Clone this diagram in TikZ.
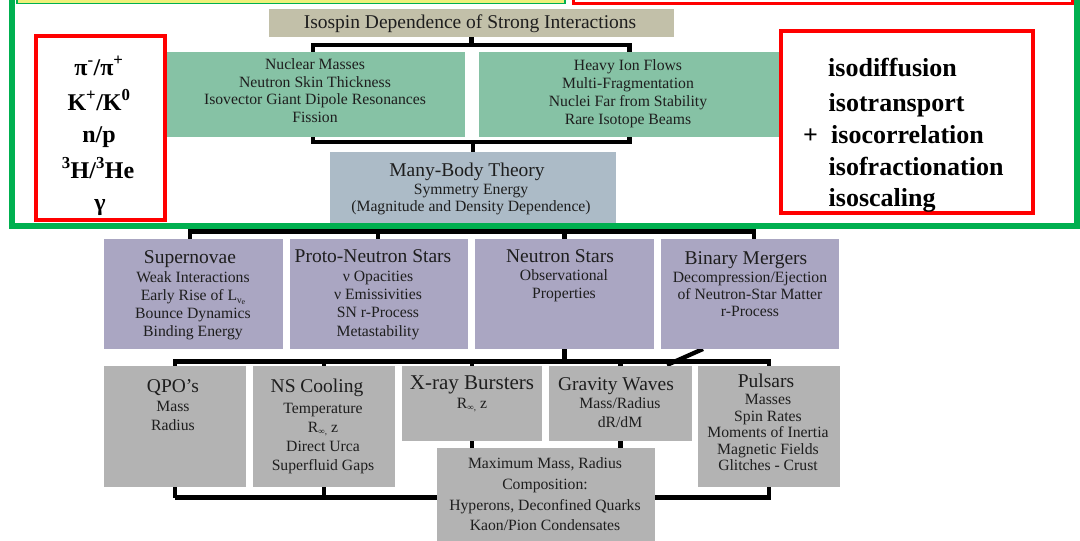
\documentclass[tikz,border=0pt]{standalone}
\usepackage{fontspec}
\setmainfont{Liberation Serif}

\definecolor{ink}{HTML}{1E1E1E}
\definecolor{tanfill}{HTML}{C2C0A9}
\definecolor{greenbox}{HTML}{86C2A5}
\definecolor{bluebox}{HTML}{ACBBC7}
\definecolor{purplebox}{HTML}{AAA6C2}
\definecolor{greybox}{HTML}{B3B3B3}
\definecolor{framegreen}{HTML}{00B050}
\definecolor{framered}{HTML}{FF0000}
\definecolor{stripyellow}{HTML}{EEF07A}

\pgfdeclarelayer{bg}
\pgfdeclarelayer{paper}
\pgfsetlayers{paper,bg,main}

\tikzset{
  blk/.style={draw=none, inner sep=0pt, outer sep=0pt, anchor=north west},
  conn/.style={line width=4.3pt, draw=black, line join=miter},
  ttl/.style={font=\fontsize{19.5}{22}\selectfont, anchor=base, inner sep=0pt, text=ink},
  sub/.style={font=\fontsize{15.7}{18}\selectfont, anchor=base, inner sep=0pt, text=ink},
  bigl/.style={font=\fontsize{24}{28}\selectfont\bfseries, anchor=base, inner sep=0pt, text=black},
  bigr/.style={font=\fontsize{26}{30}\selectfont\bfseries, anchor=base west, inner sep=0pt, text=black},
  redframe/.style={draw=framered, line width=3.5pt},
}

% subscripted symbols
\newcommand\Lnue{L\raisebox{-3pt}{\fontsize{10}{10}\selectfont ν\raisebox{-1.5pt}{\fontsize{8}{8}\selectfont e}}}
\newcommand\Rinf{R\raisebox{-2.5pt}{\fontsize{9}{9}\selectfont ∞,}}

% a centred column of text lines: name, x, first baseline, line step, lines
\newcommand\stack[5]{%
  \foreach \tline [count=\k] in {#5} {%
    \node[sub] (#1-\k) at (#2, {#3+(\k-1)*#4}) {\tline};}}

\begin{document}
\begin{tikzpicture}[x=1pt, y=-1pt]
\clip (0,0) rectangle (1080,541);
\begin{pgfonlayer}{paper}
  \fill[white] (0,0) rectangle (1080,541);
\end{pgfonlayer}

% ---------- boxes ----------
\node[blk, fill=tanfill,   minimum width=405pt, minimum height=28pt]  (title) at (269,9) {};
\node[blk, fill=greenbox,  minimum width=300pt, minimum height=85pt]  (gb1) at (165,52) {};
\node[blk, fill=greenbox,  minimum width=301pt, minimum height=85pt]  (gb2) at (479,52) {};
\node[blk, fill=bluebox,   minimum width=286pt, minimum height=71pt]  (mbt) at (330,152) {};

\node[blk, fill=purplebox, minimum width=179pt, minimum height=110pt] (sn)  at (104,239) {};
\node[blk, fill=purplebox, minimum width=178pt, minimum height=110pt] (pns) at (290,239) {};
\node[blk, fill=purplebox, minimum width=179pt, minimum height=110pt] (ns)  at (475,239) {};
\node[blk, fill=purplebox, minimum width=178pt, minimum height=110pt] (bm)  at (661,239) {};

\node[blk, fill=greybox, minimum width=142pt, minimum height=121pt] (qpo) at (104,366) {};
\node[blk, fill=greybox, minimum width=142pt, minimum height=121pt] (nsc) at (253,366) {};
\node[blk, fill=greybox, minimum width=140pt, minimum height=75pt]  (xrb) at (402,366) {};
\node[blk, fill=greybox, minimum width=143pt, minimum height=75pt]  (gw)  at (549,366) {};
\node[blk, fill=greybox, minimum width=142pt, minimum height=121pt] (pul) at (698,366) {};
\node[blk, fill=greybox, minimum width=218pt, minimum height=100pt] (mm)  at (437,448) {};

% ---------- connectors ----------
\begin{pgfonlayer}{bg}
  \draw[conn] (title.south) -- ++(0,8) coordinate (tb);
  \draw[conn] ([xshift=-2pt]gb1.north) |- (tb) -| (gb2.north);
  \draw[conn] (mbt.north) -- ++(0,-10) coordinate (mb);
  \draw[conn] ([xshift=-2pt]gb1.south) |- (mb) -| (gb2.south);

  \draw[conn] (mbt.south) -- ++(0,8.5) coordinate (r2);
  \draw[conn] ([xshift=-3.5pt]sn.north) |- (r2) -| ([xshift=4pt]bm.north);
  \draw[conn] ([xshift=-1pt]pns.north) -- ([xshift=-1pt]pns.north |- r2);
  \draw[conn] (ns.north) -- (ns.north |- r2);

  \draw[conn] (ns.south) -- ++(0,12.5) coordinate (r3);
  \draw[conn] (qpo.north) |- (r3) -| (pul.north);
  \draw[conn] (nsc.north) -- (nsc.north |- r3);
  \draw[conn] (xrb.north) -- (xrb.north |- r3);
  \draw[conn] (gw.north) -- (gw.north |- r3);
  \draw[conn] ([xshift=-47pt]bm.south) -- ([xshift=-102pt,yshift=1pt]pul.north);

  \draw[conn] (qpo.south) -- ++(0,10.5) coordinate (r4);
  \draw[conn] (r4) -| (pul.south);
  \draw[conn] (nsc.south) -- (nsc.south |- r4);
  \draw[conn] (xrb.south) -- (xrb.south |- mm.north);
  \draw[conn] (gw.south) -- (gw.south |- mm.north);
\end{pgfonlayer}

% ---------- texts ----------
\node[ttl] (title-t) at (470,28) {Isospin Dependence of Strong Interactions};

\stack{gbl}{315}{69.5}{17.5}{Nuclear Masses,Neutron Skin Thickness,Isovector Giant Dipole Resonances,Fission}
\stack{gbr}{628}{70}{18}{Heavy Ion Flows,Multi-Fragmentation,Nuclei Far from Stability,Rare Isotope Beams}

\node[ttl] (mbt-h) at (467,176) {Many-Body Theory};
\stack{mbtt}{471}{194}{17}{Symmetry Energy,(Magnitude and Density Dependence)}

\node[ttl] (sn-h) at (190,263.5) {Supernovae};
\stack{snt}{193}{282}{18}{Weak Interactions,Early Rise of \Lnue,Bounce Dynamics,Binding Energy}
\node[ttl] (pns-h) at (373,262.5) {Proto-Neutron Stars};
\stack{pnst}{378}{281.5}{18.2}{ν Opacities,ν Emissivities,SN r-Process,Metastability}
\node[ttl] (ns-h) at (560,262.5) {Neutron Stars};
\stack{nst}{564}{280}{18}{Observational,Properties}
\node[ttl] (bm-h) at (746,264) {Binary Mergers};
\stack{bmt}{750}{282.5}{17}{Decompression/Ejection,of Neutron-Star Matter,r-Process}

\node[ttl] (qpo-h) at (173,392) {QPO’s};
\stack{qpot}{173}{411.5}{19}{Mass,Radius}
\node[ttl] (nsc-h) at (317,392.5) {NS Cooling};
\stack{nsct}{323}{413}{19.2}{Temperature,\Rinf{} z,Direct Urca,Superfluid Gaps}
\node[ttl, font=\fontsize{21}{24}\selectfont] (xrb-h) at (472,389.5) {X-ray Bursters};
\stack{xrbt}{472}{408}{18}{\Rinf{} z}
\node[ttl] (gw-h) at (616,390) {Gravity Waves};
\stack{gwt}{620}{408.5}{18.5}{Mass/Radius,dR/dM}
\node[ttl] (pul-h) at (766,387.5) {Pulsars};
\stack{pult}{768}{404.5}{16.5}{Masses,Spin Rates,Moments of Inertia,Magnetic Fields,Glitches - Crust}
\stack{mmt}{545}{468.5}{20.8}{{Maximum Mass, Radius},Composition:,{Hyperons, Deconfined Quarks},Kaon/Pion Condensates}

% ---------- frames ----------
\draw[draw=framegreen, line width=1.5pt, fill=stripyellow] (17,-10) rectangle (565,3.5);
\draw[draw=framered, line width=3pt] (573,-10) rectangle (1072,3.5);
\draw[draw=framegreen, line width=6pt] (12,-10) rectangle (1076.5,225.5);

\draw[redframe] (36,36) rectangle (165,220);
\node[bigl] (pp) at (99,75)  {π\textsuperscript{-}/π\textsuperscript{+}};
\node[bigl] (kk) at (99,110) {K\textsuperscript{+}/K\textsuperscript{0}};
\node[bigl] (np) at (99,142) {n/p};
\node[bigl] (hh) at (98,178) {\textsuperscript{3}H/\textsuperscript{3}He};
\node[bigl] (gg) at (100,210) {γ};

\draw[redframe] (781,31) rectangle (1033,213);
\node[bigr] (iso1) at (828,76)    {isodiffusion};
\node[bigr] (iso2) at (828.5,111.5) {isotransport};
\node[bigr] (iso3) at (803,143.5) {\makebox[28pt][l]{+}isocorrelation};
\node[bigr] (iso4) at (828.5,175.5) {isofractionation};
\node[bigr] (iso5) at (828.5,206.5) {isoscaling};
\end{tikzpicture}
\end{document}
